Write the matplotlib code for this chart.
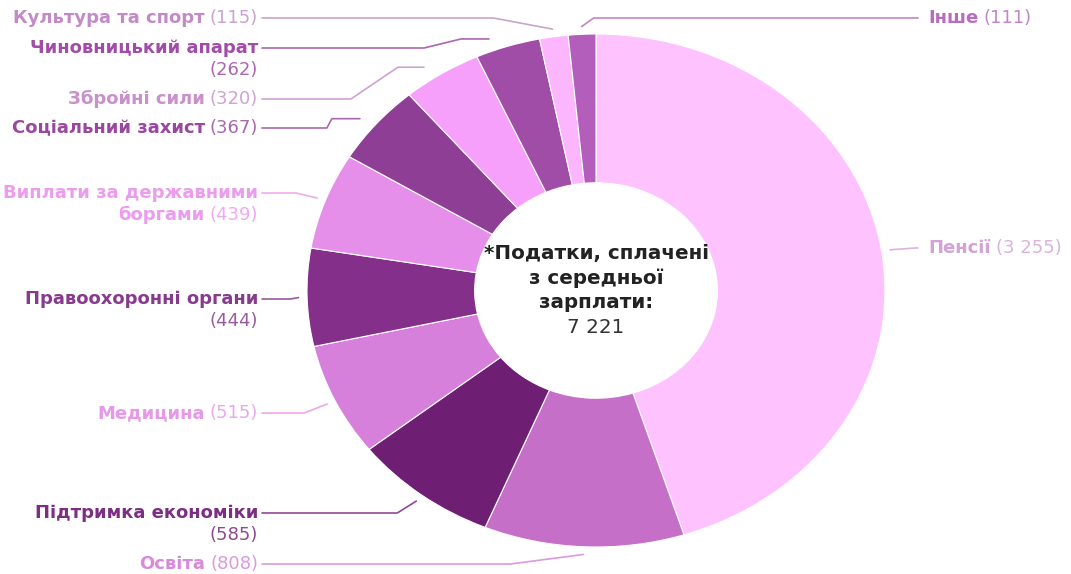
import matplotlib
matplotlib.use("Agg")
import matplotlib.pyplot as plt
import numpy as np

# ---- data ----
categories = ["Пенсії", "Освіта", "Підтримка економіки\n", "Медицина",
              "Правоохоронні органи\n", "Виплати за державними\nборгами",
              "Соціальний захист", "Збройні сили", "Чиновницький апарат\n",
              "Культура та спорт", "Інше"]
values = [3255, 808, 585, 515, 444, 439, 367, 320, 262, 115, 111]
total_label = ["*Податки, сплачені", "з середньої", "зарплати:"]
total_value = 7221

# ---- styles ----
slice_colors = ["#FEC2FE", "#C56FC9", "#6E1F74", "#D680DC", "#842F8A", "#E68FEA",
                "#8E3E95", "#F7A0FB", "#A04DA8", "#FCB6FD", "#B45EBC"]
name_colors = ["#D3A3D6", "#D78BDA", "#7C2E82", "#E699E8", "#883A8D", "#EC9CEE",
               "#9A489F", "#C990CC", "#A14DA8", "#C38BC6", "#B96CBF"]
num_colors = ["#D9B3DB", "#DB9ADE", "#8E4A93", "#EAA8EC", "#9A5A9E", "#EFAAF1",
              "#A968AD", "#CFA2D2", "#AC65B2", "#CBA3CD", "#C285C7"]
# label layout (pixels, top-left origin)
label_side = ["R", "L", "L", "L", "L", "L", "L", "L", "L", "L", "R"]
label_y = [248, 564, 513, 413, 299, 193, 128, 99, 48, 18, 18]
# leader-line shape: horizontal tail next to slice, diagonal width, end shortening
tail = [0, 0, 0, 0, 0, 0, 28, 26, 28, 0, 0]
diag = [25, 73, 19, 23, 8, 21, 5, 47, 37, 59, 12]
end_gap = [0, 0, 0, 0, 0, 0, 10, 13, 16, 0, 0]

plt.rcParams["font.family"] = ["DejaVu Sans"]
FS = 13
CFS = 14.3

W, H = 1071, 574
fig = plt.figure(figsize=(W / 100, H / 100), dpi=100)
fig.patch.set_facecolor("white")

# pie axes (elliptical, stretched horizontally as in the reference)
px0, px1, py0, py1 = 307, 885, 34, 547
pax = fig.add_axes([px0 / W, 1 - py1 / H, (px1 - px0) / W, (py1 - py0) / H])
wedges, _ = pax.pie(values, colors=slice_colors, startangle=90, counterclock=False,
                    radius=1.0, wedgeprops=dict(width=0.58, edgecolor="white", linewidth=0.8))
pax.set_aspect("auto")
pax.set_xlim(-1, 1)
pax.set_ylim(-1, 1)
pax.axis("off")

# overlay axes in pixel coordinates
ox = fig.add_axes([0, 0, 1, 1])
ox.set_xlim(0, W)
ox.set_ylim(H, 0)
ox.axis("off")
ox.patch.set_alpha(0)

fig.canvas.draw()
renderer = fig.canvas.get_renderer()


def to_pix(x, y):
    d = pax.transData.transform((x, y))
    return ox.transData.inverted().transform(d)


def text_width(t):
    return t.get_window_extent(renderer=renderer).width


def draw_segments(x, y, segs, ha):
    cx = x
    order = reversed(segs) if ha == "right" else segs
    for s, w, c in order:
        t = ox.text(cx, y, s, ha=ha, va="center", fontsize=FS, fontweight=w, color=c)
        step = text_width(t) + 5
        cx = cx - step if ha == "right" else cx + step


def fmt(v):
    return f"{v:,}".replace(",", " ")


cum = np.concatenate([[0], np.cumsum(values)])
tot = cum[-1]
LH = 22
for i, (name, v) in enumerate(zip(categories, values)):
    mid = (cum[i] + cum[i + 1]) / 2 / tot
    ang = np.deg2rad(90 - 360 * mid)
    ax_, ay_ = to_pix(1.03 * np.cos(ang), 1.03 * np.sin(ang))
    lines = name.split("\n")
    side = label_side[i]
    ly = label_y[i]
    for j, ln in enumerate(lines):
        segs = []
        if ln:
            segs.append((ln, "bold", name_colors[i]))
        if j == len(lines) - 1:
            segs.append((f"({fmt(v)})", "normal", num_colors[i]))
        if side == "L":
            draw_segments(258, ly + j * LH, segs, "right")
        else:
            draw_segments(928, ly + j * LH, segs, "left")
    g = end_gap[i]
    if side == "L":
        xs = [262, ax_ - g - tail[i] - diag[i], ax_ - g - tail[i], ax_ - g]
    else:
        xs = [918, ax_ + g + tail[i] + diag[i], ax_ + g + tail[i], ax_ + g]
    ys = [ly, ly, ay_, ay_]
    ox.plot(xs, ys, color=num_colors[i], lw=1.2, solid_capstyle="round",
            solid_joinstyle="round")

# centre text
cx0, cy0 = to_pix(0, 0)
for j, ln in enumerate(total_label):
    ox.text(cx0, 254 + j * 24.5, ln, ha="center", va="center", fontsize=CFS,
            fontweight="bold", color="#222222")
ox.text(cx0, 254 + 3 * 24.5, fmt(total_value), ha="center", va="center", fontsize=CFS,
        color="#333333")

fig.savefig("out.png", dpi=100, facecolor="white")
